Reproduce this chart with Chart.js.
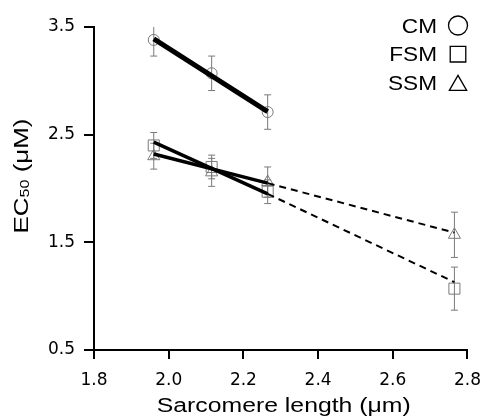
<!doctype html>
<html lang="en">
<head>
  <meta charset="utf-8">
  <title>EC50 vs sarcomere length</title>
  <style>
    * { margin: 0; padding: 0; }
    body { background: white; }
    .chartBox { width: 492px; height: 417px; }
  </style>
</head>
<body>
<div class="chartBox">
  <canvas id="myChart" width="492" height="417"></canvas>
</div>

<script src="https://cdn.jsdelivr.net/npm/chart.js"></script>
<script>
  // data
  const xTicks = [1.8, 2.0, 2.2, 2.4, 2.6, 2.8];
  const yTicks = [0.5, 1.5, 2.5, 3.5];

  const xCM = [1.96, 2.115, 2.265];
  const cmEC50 = [3.38, 3.07, 2.71];
  const cmErr = [0.15, 0.16, 0.16];

  const xSM = [1.96, 2.115, 2.265, 2.765];
  const fsmEC50 = [2.40, 2.20, 1.97, 1.07];
  const fsmErr = [0.12, 0.11, 0.11, 0.20];
  const ssmEC50 = [2.30, 2.15, 2.06, 1.57];
  const ssmErr = [0.12, 0.13, 0.14, 0.21];

  // regression lines (solid) and their extrapolations (dashed)
  const fitX = [1.96, 2.265];
  const extX = [2.265, 2.765];
  const cmFit = [3.39, 2.715];
  const fsmFit = [2.43, 1.95];
  const ssmFit = [2.32, 2.05];
  const fsmExt = [1.95, 1.13];
  const ssmExt = [2.05, 1.59];

  const legendItems = [
    { label: 'CM', style: 'circle', radius: 9.5 },
    { label: 'FSM', style: 'rect', radius: 11 },
    { label: 'SSM', style: 'triangle', radius: 10 }
  ];

  const FONT = "'Liberation Sans', Arial, sans-serif";
  const TICKFONT = "'DejaVu Sans', sans-serif";
  const GREY = '#7a7a7a';

  const pts = (xs, ys) => xs.map((x, i) => ({ x: x, y: ys[i] }));

  // vertical stems: low, high, gap
  function stems(xs, ys, es) {
    const out = [];
    xs.forEach((x, i) => {
      out.push({ x: x, y: ys[i] - es[i] });
      out.push({ x: x, y: ys[i] + es[i] });
      out.push({ x: x, y: null });
    });
    return out;
  }
  function caps(xs, ys, es) {
    const out = [];
    xs.forEach((x, i) => {
      out.push({ x: x, y: ys[i] - es[i] });
      out.push({ x: x, y: ys[i] + es[i] });
    });
    return out;
  }

  function lineSet(data, width, dash, order) {
    return {
      data: data, showLine: true, borderColor: 'black', borderWidth: width,
      borderDash: dash, pointRadius: 0, fill: false, order: order
    };
  }
  function markerSet(data, style, radius) {
    return {
      data: data, showLine: false, pointStyle: style, pointRadius: radius,
      pointBorderColor: GREY, pointBackgroundColor: 'rgba(0,0,0,0)',
      pointBorderWidth: 1, order: 5
    };
  }
  function stemSet(data) {
    return {
      data: data, showLine: true, spanGaps: false, borderColor: GREY,
      borderWidth: 1, pointRadius: 0, order: 8
    };
  }
  function capSet(data) {
    return {
      data: data, showLine: false, pointStyle: 'line', pointRadius: 3.5,
      pointBorderColor: GREY, pointBorderWidth: 1, order: 8
    };
  }

  const datasets = [
    lineSet(pts(fitX, cmFit), 5, [], 1),
    lineSet(pts(fitX, fsmFit), 3.5, [], 1),
    lineSet(pts(fitX, ssmFit), 3.5, [], 1),
    lineSet(pts(extX, fsmExt), 2, [7, 5], 1),
    lineSet(pts(extX, ssmExt), 2, [7, 5], 1),
    markerSet(pts(xCM, cmEC50), 'circle', 5.5),
    markerSet(pts(xSM, fsmEC50), 'rect', 7.8),
    markerSet(pts(xSM, ssmEC50), 'triangle', 7),
    stemSet(stems(xCM, cmEC50, cmErr)),
    stemSet(stems(xSM, fsmEC50, fsmErr)),
    stemSet(stems(xSM, ssmEC50, ssmErr)),
    capSet(caps(xCM, cmEC50, cmErr)),
    capSet(caps(xSM, fsmEC50, fsmErr)),
    capSet(caps(xSM, ssmEC50, ssmErr))
  ];

  // axis titles: the original type is a bit wider than Arial, so stretch it
  const titlesPlugin = {
    id: 'axisTitles',
    afterDraw(chart) {
      const ctx = chart.ctx;
      const area = chart.chartArea;
      ctx.save();
      ctx.fillStyle = 'black';
      ctx.textBaseline = 'alphabetic';
      ctx.textAlign = 'left';

      // y title: EC50 (µM), 50 as subscript
      const big = '21px ' + FONT;
      const small = '13px ' + FONT;
      ctx.font = big;
      const w1 = ctx.measureText('EC').width;
      const w3 = ctx.measureText(' (\u03bcM)').width;
      ctx.font = small;
      const w2 = ctx.measureText('50').width;
      const total = w1 + w2 + w3;
      const sy = 115 / total;
      ctx.save();
      ctx.translate(28, 176);
      ctx.rotate(-Math.PI / 2);
      ctx.scale(sy, 1);
      let x = -total / 2;
      ctx.font = big;
      ctx.fillText('EC', x, 0);
      x += w1;
      ctx.font = small;
      ctx.fillText('50', x, 1);
      x += w2;
      ctx.font = big;
      ctx.fillText(' (\u03bcM)', x, 0);
      ctx.restore();

      // x title
      const xt = 'Sarcomere length (\u03bcm)';
      ctx.font = '20px ' + FONT;
      const wx = ctx.measureText(xt).width;
      const sx = 254 / wx;
      ctx.save();
      ctx.translate((area.left + area.right) / 2 + 3, 412);
      ctx.scale(sx, 1);
      ctx.textAlign = 'center';
      ctx.fillText(xt, 0, 0);
      ctx.restore();
      ctx.restore();
    }
  };

  // legend: text on the left, symbol on the right
  const legendPlugin = {
    id: 'symLegend',
    afterDraw(chart) {
      const ctx = chart.ctx;
      ctx.save();
      legendItems.forEach((item, i) => {
        const y = 25.5 + i * 28.7;
        ctx.save();
        ctx.font = '20px ' + FONT;
        ctx.fillStyle = 'black';
        ctx.textAlign = 'right';
        ctx.textBaseline = 'alphabetic';
        ctx.translate(437, y + 7.2);
        ctx.scale(1.13, 1);
        ctx.fillText(item.label, 0, 0);
        ctx.restore();
        ctx.strokeStyle = 'black';
        ctx.fillStyle = 'rgba(0,0,0,0)';
        ctx.lineWidth = 1.3;
        Chart.helpers.drawPoint(ctx, { pointStyle: item.style, rotation: 0, radius: item.radius, borderWidth: 1.3 },
          458, y + (item.style === 'triangle' ? 2.5 : 0));
      });
      ctx.restore();
    }
  };

  const config = {
    type: 'scatter',
    data: { datasets: datasets },
    options: {
      responsive: false,
      animation: false,
      layout: { padding: { top: 27, right: 13, left: 0, bottom: 0 } },
      scales: {
        x: {
          type: 'linear',
          min: 1.8,
          max: 2.8,
          afterBuildTicks: (scale) => { scale.ticks = xTicks.map(v => ({ value: v })); },
          afterFit: (scale) => { scale.height = 67; },
          ticks: {
            color: 'black',
            padding: 11,
            font: { family: TICKFONT, size: 17 },
            callback: (v) => Number(v).toFixed(1)
          },
          grid: { drawOnChartArea: false, drawTicks: true, tickLength: 9, color: 'black', lineWidth: 2 },
          border: { display: true, color: 'black', width: 2 }
        },
        y: {
          type: 'linear',
          min: 0.5,
          max: 3.5,
          afterBuildTicks: (scale) => { scale.ticks = yTicks.map(v => ({ value: v })); },
          afterFit: (scale) => { scale.width = 94; },
          ticks: {
            color: 'black',
            padding: 9,
            font: { family: TICKFONT, size: 17 },
            callback: (v) => Number(v).toFixed(1)
          },
          grid: { drawOnChartArea: false, drawTicks: true, tickLength: 10, color: 'black', lineWidth: 2 },
          border: { display: true, color: 'black', width: 2 }
        }
      },
      plugins: {
        legend: { display: false },
        tooltip: { enabled: false }
      }
    },
    plugins: [titlesPlugin, legendPlugin]
  };

  const myChart = new Chart(document.getElementById('myChart'), config);
</script>
</body>
</html>
